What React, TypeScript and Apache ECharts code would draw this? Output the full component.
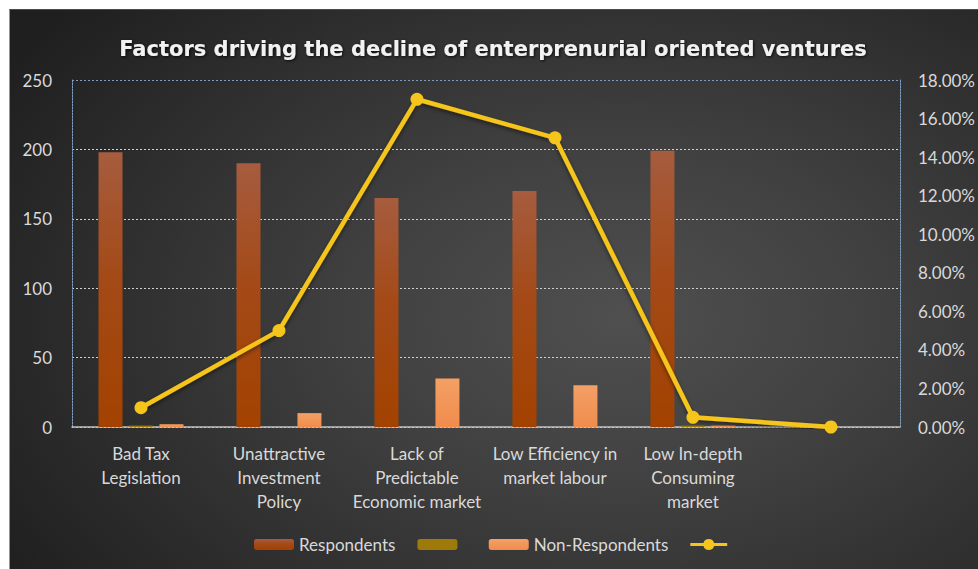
import React, { useEffect, useRef } from "react";
import * as echarts from "echarts";

const categories = [
  "Bad Tax\nLegislation",
  "Unattractive\nInvestment\nPolicy",
  "Lack of\nPredictable\nEconomic market",
  "Low Efficiency in\nmarket labour",
  "Low In-depth\nConsuming\nmarket",
  "",
];
const respondents = [198, 190, 165, 170, 199, null];
const secondSeries = [1, 0, 0, 0, 1, null];
const nonRespondents = [2, 10, 35, 30, 1, null];
const percentLine = [0.01, 0.05, 0.17, 0.15, 0.005, 0];

const leftTicks = { min: 0, max: 250, interval: 50 };
const rightTicks = { min: 0, max: 0.18, interval: 0.02 };

const LABEL_FONT = "Lato";
const LINE_ICON =
  "path://M0,4.5 L14.2,4.5 A6,6 0 0 1 25.8,4.5 L40,4.5 L40,7.5 L25.8,7.5 A6,6 0 0 1 14.2,7.5 L0,7.5 Z";

export default function App() {
  const ref = useRef<HTMLDivElement>(null);
  useEffect(() => {
    if (!ref.current) return;
    const chart = echarts.init(ref.current, undefined, { renderer: "svg" });
    const gridColors = ["#d0d0d0", "#d0d0d0", "#d0d0d0", "#d0d0d0", "#d0d0d0", "#7f9cbd"];
    chart.setOption({
      animation: false,
      backgroundColor: "transparent",
      title: {
        text: "Factors driving the decline of enterprenurial oriented ventures",
        left: 488,
        textAlign: "center",
        top: 33,
        textStyle: {
          fontFamily: "DejaVu Sans",
          fontWeight: "bold",
          fontSize: 21,
          color: "#f2f2f2",
          textShadowColor: "rgba(0,0,0,0.8)",
          textShadowBlur: 3,
          textShadowOffsetX: 1,
          textShadowOffsetY: 1,
        },
      },
      legend: {
        top: 531,
        left: 249,
        itemWidth: 40,
        itemHeight: 11,
        itemGap: 22,
        data: [
          { name: "Respondents" },
          { name: " " },
          { name: "Non-Respondents" },
          { name: "  ", icon: LINE_ICON },
        ],
        textStyle: { color: "#d9d9d9", fontSize: 17, fontFamily: LABEL_FONT },
      },
      grid: { left: 72, right: 77, top: 80, bottom: 142 },
      xAxis: {
        type: "category",
        data: categories,
        axisLine: { lineStyle: { color: "#bfbfbf", width: 1.5 } },
        axisTick: { show: false },
        axisLabel: {
          interval: 0,
          color: "#d9d9d9",
          fontSize: 17,
          lineHeight: 24,
          margin: 14,
          fontFamily: LABEL_FONT,
        },
      },
      yAxis: [
        {
          type: "value",
          min: leftTicks.min,
          max: leftTicks.max,
          interval: leftTicks.interval,
          axisLine: { show: true, lineStyle: { color: "#7f9cbd", type: [2, 1], width: 1 } },
          axisTick: { show: false },
          axisLabel: { color: "#d9d9d9", fontSize: 17, margin: 20, fontFamily: LABEL_FONT },
          splitLine: { show: true, lineStyle: { color: gridColors, type: [2, 2], width: 1 } },
        },
        {
          type: "value",
          min: rightTicks.min,
          max: rightTicks.max,
          interval: rightTicks.interval,
          position: "right",
          axisLine: { show: true, lineStyle: { color: "#7f9cbd", type: [2, 1], width: 1 } },
          axisTick: { show: false },
          axisLabel: {
            color: "#d9d9d9",
            fontSize: 17,
            margin: 18,
            fontFamily: LABEL_FONT,
            formatter: (v: number) => (v * 100).toFixed(2) + "%",
          },
          splitLine: { show: false },
        },
      ],
      series: [
        {
          name: "Respondents",
          type: "bar",
          data: respondents,
          barWidth: 24,
          barGap: "27%",
          itemStyle: {
            color: new echarts.graphic.LinearGradient(0, 0, 0, 1, [
              { offset: 0, color: "#a65c3e" },
              { offset: 0.45, color: "#a44a18" },
              { offset: 1, color: "#a34200" },
            ]),
          },
        },
        {
          name: " ",
          type: "bar",
          data: secondSeries,
          barWidth: 24,
          barGap: "27%",
          itemStyle: { color: "#9e7a0a" },
        },
        {
          name: "Non-Respondents",
          type: "bar",
          data: nonRespondents,
          barWidth: 24,
          barGap: "27%",
          itemStyle: {
            color: new echarts.graphic.LinearGradient(0, 0, 0, 1, [
              { offset: 0, color: "#f3a066" },
              { offset: 1, color: "#f08c4c" },
            ]),
          },
        },
        {
          name: "  ",
          type: "line",
          yAxisIndex: 1,
          data: percentLine,
          symbol: "circle",
          symbolSize: 13,
          lineStyle: {
            color: "#f5c51c",
            width: 4.5,
            shadowColor: "rgba(0,0,0,0.5)",
            shadowBlur: 4,
            shadowOffsetY: 2,
          },
          itemStyle: { color: "#f5c51c" },
          z: 5,
        },
      ],
    });
    return () => chart.dispose();
  }, []);

  return (
    <div
      style={{
        position: "absolute",
        left: 0,
        top: 0,
        width: 978,
        height: 569,
        background: "#ffffff",
        overflow: "hidden",
      }}
    >
      <div
        style={{
          position: "absolute",
          left: 9,
          top: 9,
          width: 969,
          height: 560,
          borderLeft: "1px solid #c9825a",
          borderTop: "1px solid #6e4030",
          boxSizing: "border-box",
          background:
            "radial-gradient(ellipse 75% 85% at 63% 55%, #4f4f4f 0%, #414141 35%, #2c2c2c 75%, #1f1f1f 100%)",
        }}
      />
      <div ref={ref} style={{ position: "absolute", left: 0, top: 0, width: 978, height: 569 }} />
    </div>
  );
}
